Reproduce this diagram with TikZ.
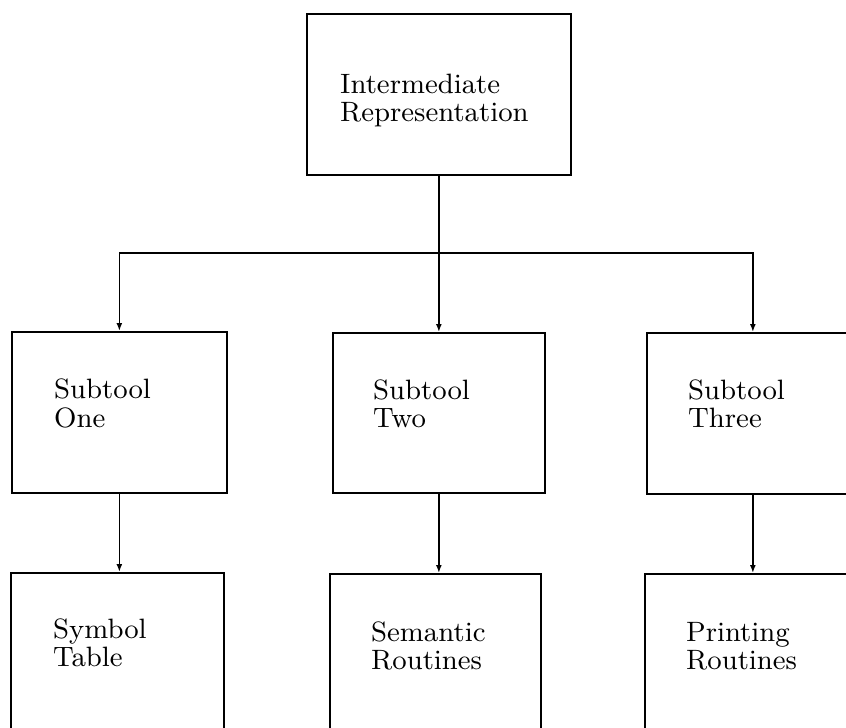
\documentclass[tikz,border=0pt]{standalone}
\usetikzlibrary{arrows.meta}
\newcommand{\lbltext}[1]{\scalebox{3.1111}{\fontsize{9}{9}\selectfont\begin{tabular}[b]{@{}l@{}}#1\end{tabular}}}
\begin{document}
\begin{tikzpicture}[x=1pt,y=-1pt,
  box/.style={draw, line width=1.7pt, rectangle, inner sep=0pt, anchor=north west},
  lbl/.style={inner sep=0pt, anchor=base west},
  conn/.style={line width=1.7pt},
  arr/.style={line width=1.7pt, -{Latex[length=8pt,width=6pt]}}]
\useasboundingbox (0,0) rectangle (846,728);
\clip (0,0) rectangle (846,728);
% boxes
\node[box, minimum width=264pt, minimum height=161pt] (ir) at (306,13) {};
\node[box, minimum width=215pt, minimum height=161pt] (s1) at (11,331) {};
\node[box, minimum width=212pt, minimum height=160pt] (s2) at (332,332) {};
\node[box, minimum width=212pt, minimum height=161pt] (s3) at (646,332) {};
\node[box, minimum width=213pt, minimum height=200pt] (b1) at (10,572) {};
\node[box, minimum width=211pt, minimum height=200pt] (b2) at (329,573) {};
\node[box, minimum width=214pt, minimum height=200pt] (b3) at (644,573) {};
% labels (anchor = baseline of last line)
\node[lbl] (irt) at (340,121) {\lbltext{Intermediate\\Representation}};
\node[lbl] (s1t) at (54,427) {\lbltext{Subtool\\One}};
\node[lbl] (s2t) at (373,427) {\lbltext{Subtool\\Two}};
\node[lbl] (s3t) at (688,427) {\lbltext{Subtool\\Three}};
\node[lbl] (b1t) at (53,666) {\lbltext{Symbol\\Table}};
\node[lbl] (b2t) at (371,669) {\lbltext{Semantic\\Routines}};
\node[lbl] (b3t) at (686,669) {\lbltext{Printing\\Routines}};
% connectors
\coordinate (j) at (ir.south |- 0,253);
\draw[conn] (ir.south) -- (j);
\draw[arr] (j) -| (s1.north);
\draw[arr] (j) -- (j |- s2.north);
\draw[arr] (j) -| (s3.north);
\draw[arr] (s1.south) -- (s1.south |- b1.north);
\draw[arr] (s2.south) -- (s2.south |- b2.north);
\draw[arr] (s3.south) -- (s3.south |- b3.north);
\end{tikzpicture}
\end{document}
